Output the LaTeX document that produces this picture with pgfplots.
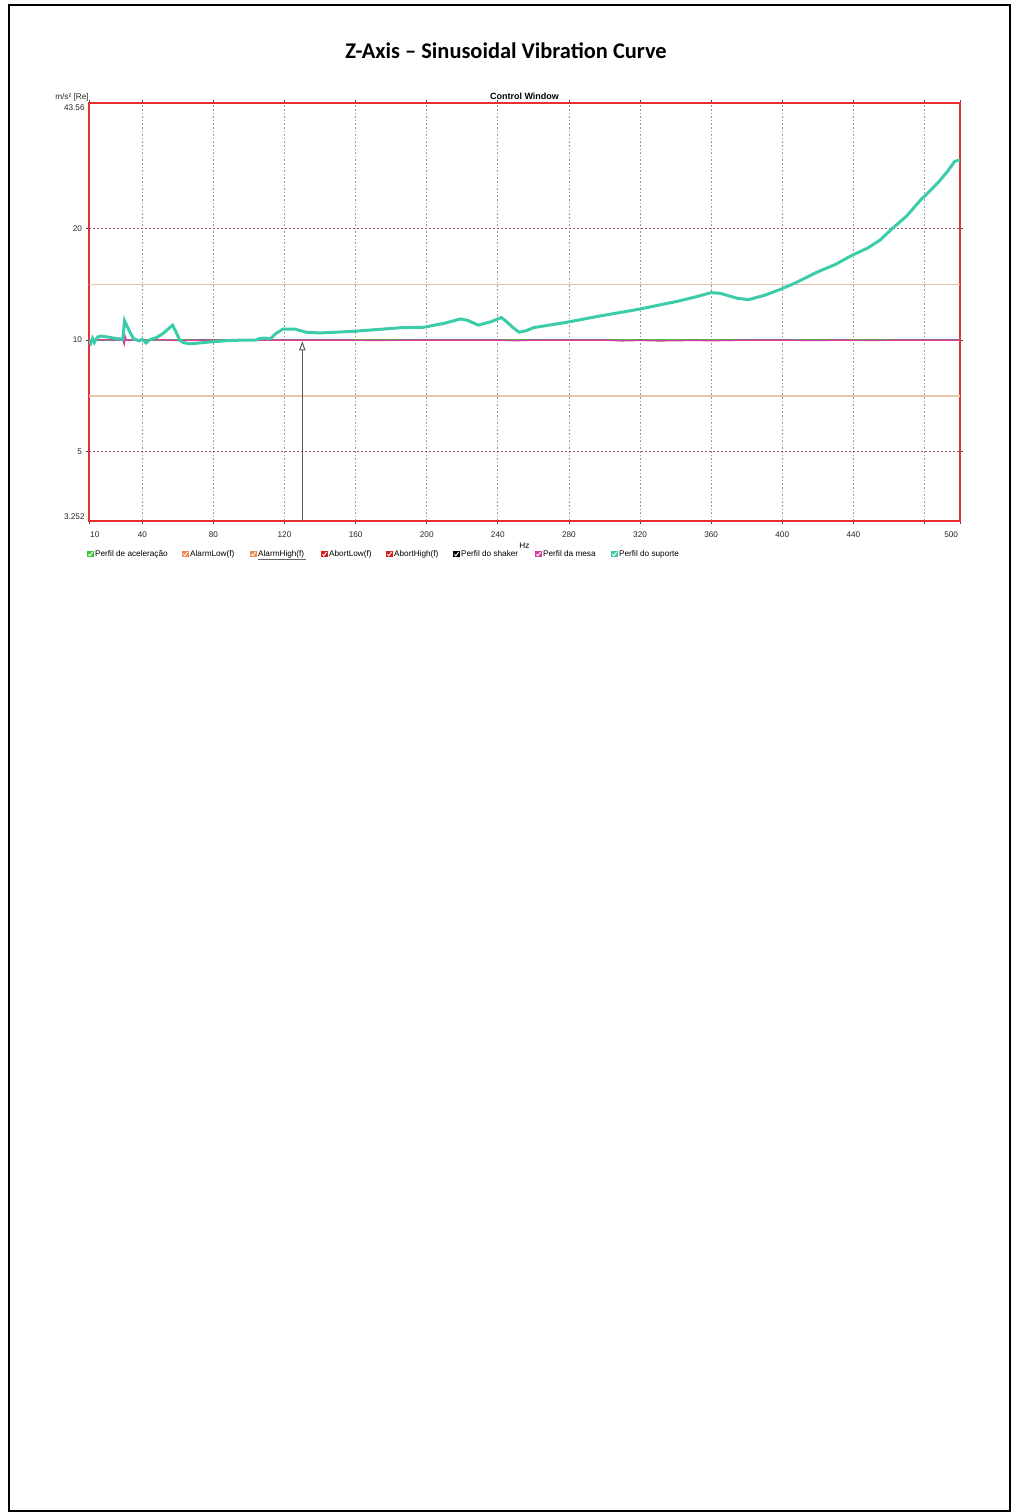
\documentclass[border=0pt]{standalone}
\usepackage{fontspec}
\setmainfont{Liberation Sans}
\newfontfamily\titlefont{Carlito}
\usepackage{pgfplots}
\pgfplotsset{compat=1.18}
\usetikzlibrary{arrows.meta}

\definecolor{suporte}{RGB}{60,204,170}
\definecolor{mesa}{RGB}{214,60,160}
\definecolor{alarmc}{RGB}{232,196,168}
\definecolor{abortc}{RGB}{150,80,110}
\definecolor{framec}{RGB}{232,48,48}
\definecolor{gridc}{RGB}{150,150,160}
\definecolor{lgreen}{RGB}{60,200,60}
\definecolor{lorange}{RGB}{238,140,80}
\definecolor{lred}{RGB}{215,30,30}

\newcommand{\legitem}[3]{%
  \fill[#2] ({#1*0.5pt},-275.3pt) rectangle ({#1*0.5pt+3.4pt},-278.7pt);
  \draw[white, line width=0.45pt] ({#1*0.5pt+0.7pt},-277.1pt) -- ({#1*0.5pt+1.4pt},-277.9pt) -- ({#1*0.5pt+2.8pt},-276.0pt);
  \node[anchor=west, inner sep=0pt, font=\fontsize{4.1}{5}\selectfont] at ({#1*0.5pt+3.9pt},-277pt) {#3};
}

\begin{document}
\begin{tikzpicture}
\path[use as bounding box] (0,0) rectangle (505.5pt,-756pt);
\draw[black, line width=0.6pt] (4.5pt,-2.5pt) rectangle (505pt,-755.5pt);

\node[font=\titlefont\bfseries\fontsize{11.2}{13}\selectfont] at (253pt,-25.3pt) {Z-Axis – Sinusoidal Vibration Curve};

\begin{axis}[
  name=ax,
  at={(44.5pt,-260.5pt)}, anchor=south west,
  scale only axis, width=435.5pt, height=209pt,
  xmin=10, xmax=500,
  ymode=log, ymin=3.252, ymax=43.56,
  axis line style={draw=framec, line width=1pt},
  xtick={10,40,80,120,160,200,240,280,320,360,400,440,480,500},
  xticklabels={,40,80,120,160,200,240,280,320,360,400,440,,},
  ytick={5,10,20},
  yticklabels={5,10,20},
  xmajorgrids,
  grid style={gridc, dash pattern=on 0.8pt off 1pt, line width=0.35pt},
  tick align=outside,
  major tick length=1.6pt,
  minor tick num=0,
  yminorticks=false,
  tick style={black!70, line width=0.35pt},
  every tick label/.append style={font=\fontsize{4.1}{5}\selectfont, text=black!85},
  xticklabel style={yshift=-0.4pt},
  yticklabel style={xshift=1.6pt},
  xlabel={Hz},
  xlabel style={font=\fontsize{4.1}{5}\selectfont, yshift=4.6pt},
]
\addplot[alarmc, line width=0.6pt] coordinates {(10,14.142) (500,14.142)};
\addplot[alarmc, line width=0.6pt] coordinates {(10,7.071) (500,7.071)};
\addplot[abortc, line width=0.4pt, dash pattern=on 1pt off 1pt] coordinates {(10,20) (500,20)};
\addplot[abortc, line width=0.4pt, dash pattern=on 1pt off 1pt] coordinates {(10,5) (500,5)};
% reference profile
\addplot[lgreen, line width=0.6pt] coordinates {(10,10) (500,10)};
% cursor arrow
\addplot[black!65, line width=0.5pt, -{Triangle[open, length=4.6pt, width=3.2pt]}] coordinates {(130,3.252) (130,9.93)};
% Perfil da mesa
\addplot[mesa, line width=0.7pt] coordinates {
(10,10) (12,9.92) (14,10.06) (16,10.0) (20,10.02) (29,10) (29.8,9.75) (30.3,10.25) (31,10) (40,10) (50,10.02) (60,9.97) (70,10) (100,10) (130,10) (150,10) (170,9.98) (200,10) (240,10) (250,9.96) (260,10) (300,10) (310,9.95) (320,9.98) (330,9.95) (340,9.96) (350,9.98) (360,9.96) (370,9.98) (380,10) (400,10) (420,9.97) (430,10) (450,9.98) (470,10) (500,10)};
% Perfil do suporte
\addplot[suporte, line width=1.5pt] coordinates {
(10,10.0) (11,9.8) (12,10.1) (13,9.85) (14,10.05) (15,10.2) (17,10.25) (20,10.2) (25,10.1) (29,10.05)
(30,11.27) (31,11.0) (33,10.5) (35,10.1) (38,9.95) (40,10.05) (42,9.82) (44,10.0) (46,10.1) (48,10.15)
(52,10.45) (57,10.97) (59,10.5) (61,10.0) (63,9.85) (66,9.78) (70,9.8) (80,9.9) (90,9.98) (100,10.0)
(104,10.0) (106,10.1) (109,10.12) (112,10.08) (115,10.4) (119,10.7) (126,10.7) (132,10.5) (140,10.45)
(158,10.55) (186,10.8) (198,10.82) (210,11.1) (219,11.4) (223,11.3) (229,10.97) (236,11.2) (242,11.5)
(245,11.2) (249,10.75) (252,10.5) (256,10.6) (260,10.8) (278,11.15) (297,11.6) (319,12.1) (342,12.75)
(352,13.1) (360,13.42) (365,13.37) (375,12.95) (381,12.85) (390,13.2) (399,13.7) (408,14.3) (419,15.2)
(430,16.0) (439,16.9) (448,17.7) (455,18.6) (462,20.0) (470,21.6) (478,23.9) (484,25.5) (488,26.7)
(493,28.5) (497,30.3) (499,30.5) (500,30.5)};
\end{axis}

\node[anchor=north east, inner sep=0pt, font=\fontsize{4.1}{5}\selectfont, text=black!85] at ([xshift=-2pt,yshift=-0.8pt]ax.north west) {43.56};
\node[anchor=south east, inner sep=0pt, font=\fontsize{4.1}{5}\selectfont, text=black!85] at ([xshift=-2pt,yshift=0.6pt]ax.south west) {3.252};
\node[anchor=north west, inner sep=0pt, font=\fontsize{4.1}{5}\selectfont, text=black!85] at ([xshift=0.4pt,yshift=-5.0pt]ax.south west) {10};
\node[anchor=north east, inner sep=0pt, font=\fontsize{4.1}{5}\selectfont, text=black!85] at ([xshift=-0.8pt,yshift=-5.0pt]ax.south east) {500};
\node[anchor=south east, inner sep=0pt, font=\fontsize{4.1}{5}\selectfont, text=black!85] at ([yshift=0.8pt]ax.north west) {m/s² [Re]};
\node[anchor=south, inner sep=0pt, font=\bfseries\fontsize{4.5}{5}\selectfont] at ([yshift=1.3pt]ax.north) {Control Window};

\legitem{87}{lgreen}{Perfil de aceleração}
\legitem{182}{lorange}{AlarmLow(f)}
\legitem{250}{lorange}{AlarmHigh(f)}
\draw[black!60, line width=0.4pt] ({250*0.5pt+3.9pt},-279.6pt) -- ({306*0.5pt},-279.6pt);
\legitem{321}{lred}{AbortLow(f)}
\legitem{386}{lred}{AbortHigh(f)}
\legitem{453}{black}{Perfil do shaker}
\legitem{535}{mesa}{Perfil da mesa}
\legitem{611}{suporte}{Perfil do suporte}
\end{tikzpicture}
\end{document}
